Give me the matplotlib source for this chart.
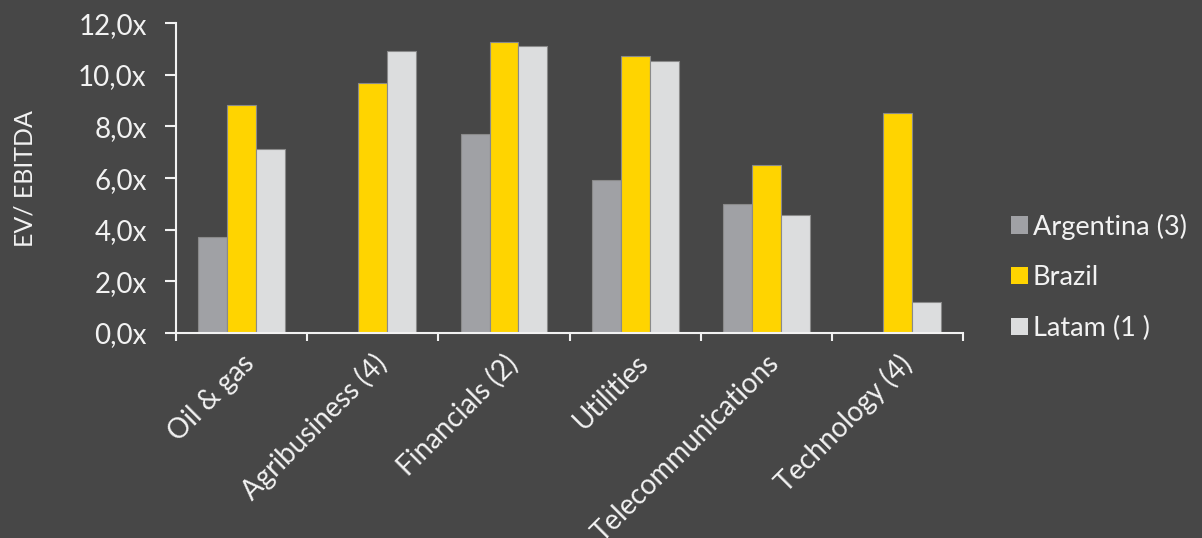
import numpy as np
import matplotlib.pyplot as plt
from matplotlib.ticker import FuncFormatter, FixedLocator

plt.rcParams['font.family'] = ['Lato', 'DejaVu Sans']

# data (EV/EBITDA multiples)
categories = ['Oil & gas', 'Agribusiness (4)', 'Financials (2)', 'Utilities',
              'Telecommunications', 'Technology (4)']
argentina = [3.72, np.nan, 7.70, 5.91, 4.99, np.nan]
brazil = [8.83, 9.68, 11.27, 10.72, 6.50, 8.52]
latam = [7.12, 10.92, 11.11, 10.52, 4.57, 1.20]
series_names = ['Argentina (3)', 'Brazil', 'Latam (1 )']
colors = ['#A0A1A5', '#FFD400', '#DCDDDE']

bg = '#474747'
fg = '#F2F2F2'

fig = plt.figure(figsize=(12.02, 5.38), dpi=100, facecolor=bg)
ax = fig.add_axes([0.1464, 0.381, 0.655, 0.576], facecolor=bg)

x = np.arange(len(categories))
w = 0.22
for i, (vals, name, c) in enumerate(zip([argentina, brazil, latam], series_names, colors)):
    ax.bar(x + (i - 1) * w, vals, width=w, color=c, edgecolor='#8A8A8A',
           linewidth=0.8, label=name)

ax.set_xlim(-0.5, len(categories) - 0.5)
ax.set_ylim(0, 12)
ax.set_yticks(np.arange(0, 12.1, 2))
ax.yaxis.set_major_formatter(FuncFormatter(lambda v, p: ('%.1fx' % v).replace('.', ',')))

# ticks between groups, labels at group centres
ax.xaxis.set_major_locator(FixedLocator(np.arange(-0.5, len(categories), 1.0)))
ax.xaxis.set_major_formatter(FuncFormatter(lambda v, p: ''))
ax.set_xticks(x, minor=True)
ax.set_xticklabels(categories, minor=True, rotation=45, ha='right',
                   rotation_mode='anchor', fontsize=20, color=fg)
ax.tick_params(axis='x', which='minor', length=0, pad=12)
ax.tick_params(axis='x', which='major', length=6, width=1.5, color=fg, direction='out')
ax.tick_params(axis='y', length=8, width=1.5, color=fg, labelcolor=fg,
               labelsize=20, pad=13)

for s in ['top', 'right']:
    ax.spines[s].set_visible(False)
for s in ['left', 'bottom']:
    ax.spines[s].set_color(fg)
    ax.spines[s].set_linewidth(1.5)

ax.set_ylabel('EV/ EBITDA', color=fg, fontsize=18, labelpad=30)

leg = ax.legend(loc='center left', bbox_to_anchor=(1.03, 0.18), frameon=False,
                fontsize=19.5, labelcolor=fg, handlelength=0.6, handleheight=0.6,
                handletextpad=0.2, labelspacing=0.95)
for h in leg.legend_handles:
    h.set_edgecolor('none')

fig.savefig('out.png', dpi=100, facecolor=bg)
